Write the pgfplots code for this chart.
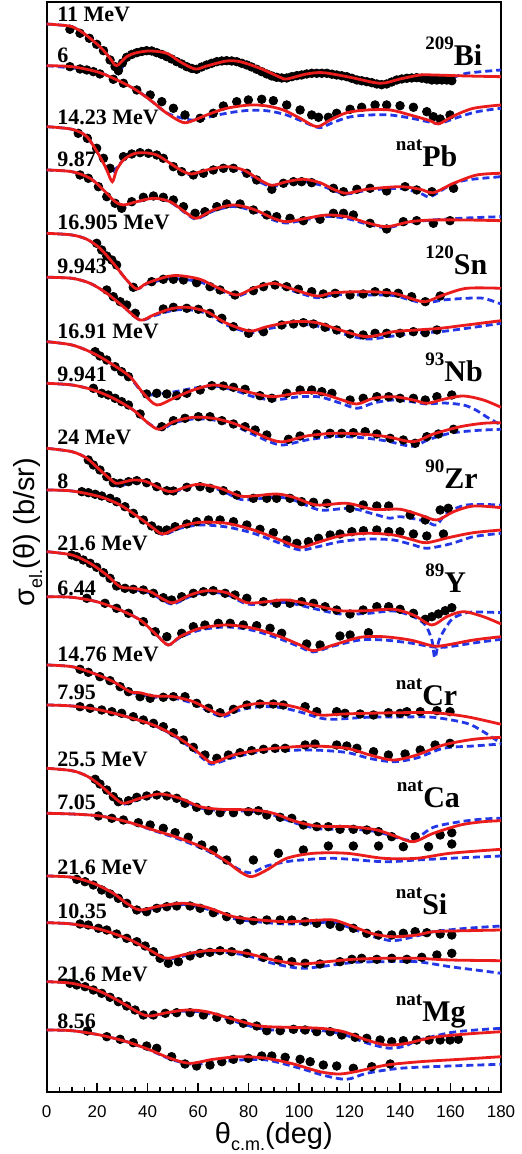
\documentclass[border=0pt]{standalone}
\usepackage{fontspec}
\setmainfont{Liberation Serif}
\newfontfamily\sans{Liberation Sans}
\usepackage{pgfplots}
\pgfplotsset{compat=1.18}
\definecolor{cred}{RGB}{235,28,28}
\definecolor{cblue}{RGB}{35,55,230}
\pgfplotsset{
 rl/.style={cred, line width=1.4pt, smooth, tension=0.5, no marks, on layer=axis foreground},
 bl/.style={cblue, line width=1.4pt, dash pattern=on 3.5pt off 2pt, smooth, tension=0.5, no marks},
 dt/.style={only marks, mark=*, mark size=2.15pt, black, mark options={draw=black, fill=black}},
}
\newcommand{\en}[1]{\fontsize{11}{12}\selectfont\bfseries #1}
\newcommand{\nuc}[2]{\bfseries\raisebox{8.3pt}{\fontsize{9.5}{10}\selectfont #1}\fontsize{15}{17}\selectfont #2}
\begin{document}
\begin{tikzpicture}
\begin{axis}[
 set layers,
 scale only axis, width=227.15pt, height=545.3pt,
 xmin=0, xmax=180, ymin=-1092.3, ymax=-1.7,
 xtick={0,20,...,180}, minor x tick num=3, ytick=\empty,
 tick align=inside, xtick pos=left,
 major tick length=4.5pt, minor tick length=2.5pt,
 every tick/.style={black, line width=0.8pt},
 axis line style={line width=1pt},
 /pgf/number format/assume math mode=true,
 xticklabel style={font=\sans\fontsize{8.5}{10}\selectfont, yshift=-3pt},
 clip=false,
]
% ---------- 209Bi 11 MeV
\addplot[bl] coordinates {(0,-24)(5,-25)(10,-26.7)(14.5,-33)(21.1,-46.7)(25.1,-58.3)(28.4,-74)(31.7,-57.5)(35.7,-53)(41,-51.5)(47.6,-54)(52.8,-62.5)(58.8,-69.5)(63.4,-66.7)(71.3,-62)(76.6,-62.5)(84.5,-69.5)(92.5,-78)(95.1,-79.7)(103,-75)(109.6,-73.5)(120.2,-78.3)(132.1,-84.3)(140,-80.3)(148,-77)(153.2,-78.5)(159.8,-78.3)(166.4,-73.3)(180,-70)};
\addplot[dt] coordinates {(9.2,-29.3)(13.2,-33.3)(16.9,-38.3)(19.8,-44.3)(22.5,-50.7)(25.1,-60)(27.1,-66.7)(28.4,-70.7)(30,-63)(31.7,-57.3)(33.7,-54.5)(35.7,-52.7)(37.7,-51.5)(39.6,-50.7)(41.6,-51)(43.6,-52.7)(45.6,-54.5)(47.6,-56.7)(49.5,-59)(51.5,-61.7)(53.5,-64)(55.5,-66.7)(57.5,-68.5)(59.4,-69.3)(61.4,-67)(63.4,-65)(65.4,-63.3)(67.4,-61.7)(69.4,-61)(71.3,-60.7)(73.3,-61)(75.3,-61.7)(77.3,-63.3)(79.3,-65)(81.2,-67)(83.2,-69.3)(85.2,-71.7)(87.2,-74)(89.2,-76)(91.1,-77.3)(93.1,-78)(95.1,-78)(97.1,-76.7)(99.1,-75.7)(101,-75)(103,-74)(105,-73.3)(107,-73.3)(109,-73.3)(111,-73.3)(113,-74.2)(114.9,-75)(116.9,-75.8)(118.9,-76.7)(120.9,-78.3)(122.9,-80)(124.8,-80.8)(126.8,-81.7)(128.8,-82.7)(130.8,-84)(132.7,-84.7)(134.7,-84)(136.7,-82)(138.7,-80)(140.7,-79)(142.7,-78.3)(144.6,-78)(146.6,-77.7)(148.6,-78.2)(150.6,-79)(152.6,-80)(154.6,-80)(156.6,-80)(158.5,-80)(160.5,-80.7)};
\addplot[rl] coordinates {(0,-24)(5,-25)(10,-26.7)(14.5,-33)(21.1,-46.7)(25.1,-58.3)(27.7,-65.7)(31.7,-56.7)(35.7,-52.7)(41,-51)(47.6,-53.3)(52.8,-61.7)(58.8,-69)(63.4,-66)(71.3,-61)(76.6,-61.7)(84.5,-68.3)(92.5,-77.3)(95.1,-79)(103,-74)(109.6,-72.7)(120.2,-77.3)(132.1,-83.3)(140,-79)(148,-75)(153.2,-75)(166.4,-76)(180,-76.7)};
% ---------- 209Bi 6 MeV
\addplot[bl] coordinates {(0,-65.7)(19.8,-71.7)(34.3,-88.3)(41,-100)(47.6,-113)(55.5,-119.3)(60,-120)(66,-116)(73,-112.5)(80.6,-110.3)(88,-111)(95,-115)(101,-121)(108,-127.7)(113,-123)(120,-117)(128,-115)(136,-115)(144,-118)(151,-121.7)(155.5,-123.5)(161,-119)(170,-112)(180,-108.3)};
\addplot[dt] coordinates {(9.2,-66.7)(13.2,-69)(15.9,-70)(18.5,-71.7)(21.1,-74)(26.4,-79.3)(30.4,-83.3)(35.7,-90)(41,-95)(45.6,-101.7)(50.2,-108.3)(54.8,-115)(60.8,-118.3)(66,-113.3)(70,-106)(75.3,-101.7)(79.9,-100)(85.2,-99.3)(89.8,-100.7)(95.1,-105)(100.4,-110)(105,-115)(107.7,-117.3)(111.6,-117.3)(114.9,-113.3)(120.2,-109.3)(124.8,-107.3)(130.1,-105)(134.7,-105)(140,-105.7)(145.3,-107.3)(150.6,-111.7)(153.2,-116.7)(155.9,-119)(159.8,-115)};
\addplot[rl] coordinates {(0,-65.7)(10,-66.7)(19.8,-71.7)(26.4,-78.3)(34.3,-88.3)(41,-100)(47.6,-113.3)(54,-122.5)(58.1,-120.5)(63.4,-115)(71.3,-108.3)(80.6,-105)(87.2,-106)(93.8,-110)(100.4,-118.3)(107,-126.7)(112.3,-120)(118.9,-112.7)(126.8,-110)(136.1,-110)(144,-115)(151.9,-120.7)(155.2,-124)(161.2,-116)(169.1,-108.3)(180,-105)};
% ---------- natPb 14.23
\addplot[bl] coordinates {(0,-126.7)(10,-129.3)(15.9,-136.7)(21.1,-156.7)(23.8,-168)(26,-173)(27.7,-168)(30.4,-160)(34.3,-154)(38.3,-152.7)(43.6,-155)(48.9,-163.3)(53.5,-171)(57.5,-175)(63.4,-171.5)(71.3,-168.5)(77.9,-172)(84.5,-182)(89.2,-186.5)(95.1,-183.5)(101.7,-181.5)(108.3,-185)(113.6,-190.5)(118.9,-194)(126.8,-190.5)(140,-188.5)(148,-193.3)(152,-196.7)(160,-185)(166.4,-180)(180,-176.7)};
\addplot[dt] coordinates {(12.5,-133.3)(16.1,-138.3)(19.8,-148.3)(22.5,-158.3)(25.1,-168.3)(30.4,-156.7)(33.7,-154)(37,-152.7)(40.3,-153.3)(43.6,-155)(46.2,-158.3)(50.2,-166.7)(53.5,-171.7)(58.1,-175)(62.1,-173.3)(66,-170)(70,-168.3)(74,-168.3)(79.3,-173.3)(83.2,-180)(89.2,-189.3)(93.8,-183.3)(97.8,-181.7)(101,-181.7)(105,-182.7)(113.6,-188.3)(117.6,-191.7)(122.9,-189.3)(128.1,-188.3)(134.7,-191)(142,-186.7)(146.6,-190)(152.6,-191.7)(161.2,-188.3)};
\addplot[rl] coordinates {(0,-126.7)(10,-129.3)(15.9,-136.7)(21.1,-156.7)(23.8,-170)(26,-181.7)(27.7,-170)(30.4,-160)(34.3,-154)(38.3,-152.7)(43.6,-155)(48.9,-163.3)(53.5,-170.7)(57.5,-174)(63.4,-170)(71.3,-166.7)(77.9,-170)(84.5,-180)(89.2,-185.3)(95.1,-181.7)(101.7,-179.3)(108.3,-182.7)(113.6,-189.3)(118.9,-193.3)(126.8,-189.3)(140,-186.7)(148,-189.3)(153.2,-192.7)(161.2,-183.3)(170.4,-175)(180,-173.3)};
% ---------- natPb 9.87
\addplot[bl] coordinates {(0,-170)(10,-171.7)(17.2,-178.3)(22.5,-190)(27.1,-203.5)(29.7,-210)(32,-205)(35.7,-202)(42.3,-198.3)(48.9,-202)(55.5,-214)(59.4,-219)(66,-211)(74,-206.5)(81.9,-211)(89.8,-220)(95.1,-223)(103,-219.5)(111,-216.5)(118.9,-218.5)(126.8,-224)(134.7,-227.7)(144,-222.5)(153.2,-220)(166.4,-218)(180,-216.7)};
\addplot[dt] coordinates {(13.2,-175)(16.5,-178.3)(20.5,-186.7)(23.8,-196.7)(27.1,-203.3)(29.7,-208.3)(33.7,-201.7)(38.3,-197.3)(42.3,-196)(46.2,-197.3)(50.2,-200)(54.2,-206.7)(58.8,-213.3)(62.7,-211.7)(67.4,-206.7)(71.3,-204)(76.6,-204)(81.9,-210)(87.2,-215)(91.1,-216.7)(96.4,-218.3)(101.7,-220.7)(108.3,-219.3)(113.6,-213.3)(117.6,-213.3)(121.5,-215)(128.1,-223.3)(134.7,-229)(141.3,-221.7)(146.6,-220.7)(153.2,-223.3)(159.8,-220.7)};
\addplot[rl] coordinates {(0,-170)(10,-171.7)(17.2,-178.3)(22.5,-190)(27.1,-201.7)(30.4,-205)(35.7,-201.7)(42.3,-198.3)(48.9,-201.7)(55.5,-213.3)(59.4,-218.3)(66,-210)(74,-205)(81.9,-209.3)(89.8,-218.3)(95.1,-221.7)(103,-218.3)(111,-215)(118.9,-216.7)(126.8,-222.7)(134.7,-226.7)(144,-221.7)(153.2,-220)(166.4,-220)(180,-220.7)};
% ---------- 120Sn 16.905
\addplot[bl] coordinates {(0,-233.3)(10,-235)(15.9,-239.3)(21.1,-248.3)(26.4,-263.3)(31.7,-280)(35.7,-289)(39.6,-284)(47.6,-279)(52.8,-279)(60.8,-282)(67.4,-289)(75.3,-296)(81.9,-290)(89.8,-285)(96.4,-290)(107,-297.7)(113.6,-295)(126.8,-295)(137.4,-295.5)(144,-300)(150,-303)(157.2,-300)(166.4,-298.3)(173,-298.3)(180,-304)};
\addplot[dt] coordinates {(19.8,-243.3)(21.8,-250)(23.8,-256)(25.8,-260)(27.7,-265)(34.3,-287.3)(41.6,-281.7)(46.2,-279.3)(50.2,-279.3)(54.2,-280)(59.4,-282.7)(64.7,-286.7)(68.7,-290)(74.6,-295)(81.9,-290.7)(85.9,-286.7)(90.5,-285)(95.1,-286.7)(99.7,-289.3)(105,-291.7)(109.6,-294)(114.3,-293.3)(120.2,-295)(125.4,-294)(130.1,-291.7)(134.7,-292.7)(139.3,-293.3)(144.6,-296.7)(150,-301.7)(155.9,-296)};
\addplot[rl] coordinates {(0,-233.3)(10,-235)(15.9,-239.3)(21.1,-248.3)(26.4,-263.3)(31.7,-280)(35.7,-289)(39.6,-283.3)(47.6,-276.7)(52.8,-275.7)(60.8,-279.3)(67.4,-287.3)(75.3,-295)(81.9,-288.3)(89.8,-283.3)(96.4,-288.3)(107,-296)(113.6,-292.7)(126.8,-291.7)(137.4,-293.3)(144,-298.3)(150,-301.7)(157.2,-295)(166.4,-288.3)(180,-288.3)};
% ---------- 120Sn 9.943
\addplot[bl] coordinates {(0,-277.3)(10,-278.3)(17.2,-283.3)(23.8,-293.3)(30.4,-306.7)(37,-320)(42.3,-316)(48.9,-311)(55.5,-309.5)(63.4,-313.5)(71.3,-325)(80.6,-332.5)(87.2,-329)(97.8,-324.5)(107,-326)(116.2,-333)(126.8,-339)(137.4,-336)(146.6,-333)(155.9,-331.7)(166.4,-328.3)(180,-323.3)};
\addplot[dt] coordinates {(23.8,-290)(26.4,-296.7)(29.1,-301.7)(31.7,-305)(35.1,-313.3)(46.2,-309)(50.2,-307.3)(55.5,-308.3)(60.1,-309.3)(64.7,-313.3)(69.4,-318.3)(74,-326.7)(80,-333.3)(85.9,-331.7)(93.1,-325)(97.8,-324)(101.7,-322.7)(105.7,-324)(110.3,-327.3)(114.9,-330)(120.2,-334)(125.4,-335)(130.1,-333.3)(134.7,-333.3)(140,-333.3)(145.3,-331.7)(150,-332.7)(154.6,-330)};
\addplot[rl] coordinates {(0,-277.3)(10,-278.3)(17.2,-283.3)(23.8,-293.3)(30.4,-306.7)(37,-320)(42.3,-315)(48.9,-309)(55.5,-307.3)(63.4,-311.7)(71.3,-323.3)(80.6,-331)(87.2,-326.7)(97.8,-321.7)(107,-322.7)(116.2,-330)(126.8,-336.7)(137.4,-331.7)(146.6,-330)(155.9,-328.3)(166.4,-325)(180,-320.7)};
% ---------- 93Nb 16.91
\addplot[bl] coordinates {(0,-341.7)(10,-345)(18.5,-353.3)(26.4,-365)(33,-377.7)(37,-390)(39.6,-395)(44,-394)(50.2,-392)(58.1,-388.3)(66,-386)(74,-390)(81.9,-396.7)(89.8,-400)(100.4,-396.7)(108.3,-397)(116.2,-403)(123,-408.3)(129.5,-403)(137.4,-400)(145.3,-402)(150.6,-404)(157.2,-403)(165.1,-405)(170,-410)(175,-418)(180,-425)};
\addplot[dt] coordinates {(19.2,-351.7)(21.1,-356)(23.8,-360)(27.1,-366.7)(29.7,-371.7)(32.4,-376.7)(39.6,-394)(43.6,-393.3)(47.6,-394)(51.5,-395.7)(55.5,-393.3)(60.8,-390)(65.4,-385.7)(70,-386)(74,-387.3)(78.6,-389.3)(84.5,-395.7)(89.2,-398.3)(95.1,-393.3)(100.4,-390)(105,-390)(109,-391.7)(113,-393.3)(120.2,-400)(125.4,-398.3)(130.8,-396.7)(135.5,-396.7)(140,-398.3)(145.3,-398.3)(150,-400)(154.6,-396.7)(160.5,-395)};
\addplot[rl] coordinates {(0,-341.7)(10,-345)(18.5,-353.3)(26.4,-365)(33,-376.7)(38.3,-393.3)(43.6,-405)(50.2,-398.3)(58.1,-390)(66,-385)(74,-388.3)(81.9,-393.3)(89.8,-396.7)(100.4,-392.7)(108.3,-393.3)(116.2,-399.3)(122.9,-404)(129.5,-398.3)(137.4,-396.7)(145.3,-400)(150.6,-403.3)(157.2,-399.3)(165.1,-396)(173,-400)(180,-407.3)};
% ---------- 93Nb 9.941
\addplot[bl] coordinates {(0,-383.3)(10,-385)(18.5,-390)(26.4,-398.3)(34.3,-410)(40.3,-423.3)(45.6,-429.3)(50.2,-423)(58.1,-419)(66,-420)(74,-425.5)(81.9,-434.5)(88.5,-442)(93.8,-445)(103,-440)(113.6,-436.7)(124.2,-437.5)(134.7,-441)(141.3,-445)(146,-446)(151,-440)(159.8,-433.3)(170,-430.5)(180,-429.3)};
\addplot[dt] coordinates {(18.5,-388.3)(21.8,-393.3)(24.4,-395)(27.1,-398.3)(29.7,-401.7)(32.4,-405)(37,-414)(45.6,-426.7)(50.2,-420.7)(54.8,-418.3)(60.1,-416.7)(64.7,-416.7)(69.4,-420.7)(74,-424)(78.6,-426.7)(82.6,-430)(87.2,-435)(95.8,-439.3)(100.4,-436)(107,-434)(112.3,-433.3)(116.9,-433.3)(121.5,-432.7)(126.2,-431.7)(130.8,-434)(136.1,-438.3)(141.3,-440)(146,-443.3)(150.6,-436.7)(155.2,-434)(161.2,-429.3)};
\addplot[rl] coordinates {(0,-383.3)(10,-385)(18.5,-390)(26.4,-398.3)(34.3,-410)(40.3,-423.3)(44.6,-429.3)(50.2,-421.7)(58.1,-417.3)(66,-418.3)(74,-423.3)(81.9,-431.7)(88.5,-439.3)(93.8,-441.7)(103,-436)(113.6,-433.3)(124.2,-434)(134.7,-436.7)(145.3,-441.7)(153.2,-434)(163.9,-426.7)(173,-423.3)(180,-422.7)};
% ---------- 90Zr 24
\addplot[bl] coordinates {(0,-448.3)(10,-451.7)(15.9,-458.3)(21.1,-470)(26.4,-482.5)(28.4,-486.7)(34.3,-481.7)(39.6,-482.7)(44.9,-489)(49.5,-492.3)(55.5,-487.7)(60.8,-485.5)(68.7,-490)(76.6,-499.3)(81.9,-499.3)(91.1,-497)(97.8,-500)(108.3,-510)(120.2,-508.3)(129.5,-514)(136,-518.3)(140,-516.7)(148,-520)(151.9,-523.3)(154.6,-525)(158.5,-513.3)(166.4,-505)(180,-505)};
\addplot[dt] coordinates {(16.5,-460)(18.5,-465)(21.1,-470)(23.8,-476.7)(26.4,-482.7)(29.1,-483.3)(32.4,-481.7)(35.7,-480.7)(39.6,-482.7)(43.6,-486.7)(47.6,-490.7)(50.2,-491)(55.5,-487.3)(60.8,-486.7)(64.7,-488.3)(70,-490.7)(75.3,-495)(81.9,-498.3)(87.2,-498.3)(91.1,-498.3)(96.4,-498.3)(101,-501.7)(105.7,-502.3)(111,-503.3)(120.2,-508.3)(125.4,-505)(130.8,-506)(135.5,-506)(144,-515)(150,-520)(155.9,-510)(159.1,-508.3)};
\addplot[rl] coordinates {(0,-448.3)(10,-451.7)(15.9,-458.3)(21.1,-470)(26.4,-481.7)(28.4,-483.3)(34.3,-480)(39.6,-481.7)(44.9,-488.3)(49.5,-491.7)(55.5,-486.7)(60.8,-484.3)(68.7,-488.3)(76.6,-496)(81.9,-496)(91.1,-494)(97.8,-497.3)(107,-505)(118.9,-503.3)(129.5,-509.3)(140,-509.3)(148,-515)(154.6,-520)(161.2,-511.7)(169.1,-506)(180,-507.7)};
% ---------- 90Zr 8
\addplot[bl] coordinates {(0,-490)(10,-491)(21.1,-496.7)(29.1,-505)(37,-518.3)(42.3,-528.3)(46.2,-534.7)(52.8,-528.3)(60.8,-525)(71.3,-527)(81.9,-533.3)(92.5,-543.3)(100.4,-550)(107,-547)(116.2,-541.7)(126.8,-539)(137.4,-540)(145.3,-545)(150.6,-548.3)(159.8,-544)(169.1,-536.7)(180,-533.3)};
\addplot[dt] coordinates {(13.9,-491.7)(16.5,-492.7)(19.2,-494.3)(21.8,-496)(25.1,-498.3)(27.7,-501.7)(31,-506.7)(34.3,-513.3)(38.3,-520)(41.6,-526)(44.3,-530)(47.6,-530)(50.9,-526.7)(55.5,-524)(59.4,-521.7)(64.1,-520)(68.7,-520)(74,-521.7)(79.3,-525)(84.5,-529.3)(89.8,-532.7)(95.1,-540)(99.1,-543.3)(103.7,-541.7)(107.7,-538.3)(112.3,-535)(116.2,-534)(120.9,-531.7)(125.5,-530.7)(130.8,-530)(135.5,-531.7)(140,-531.7)(145.3,-534)(150.6,-536)(157.2,-534)};
\addplot[rl] coordinates {(0,-490)(10,-491)(21.1,-496.7)(29.1,-505)(37,-518.3)(42.3,-528.3)(46.2,-534)(52.8,-526.7)(60.8,-522.3)(71.3,-523.3)(81.9,-530)(92.5,-540)(100.4,-547.3)(107,-542.7)(116.2,-536)(126.8,-533.3)(137.4,-535)(145.3,-540)(150.6,-542.7)(159.8,-537.3)(169.1,-532.7)(180,-530)};
% ---------- 89Y 21.6
\addplot[bl] coordinates {(0,-551.7)(10,-555)(17.2,-563.3)(23.8,-575)(29.1,-587.5)(34.3,-589.5)(41,-593)(46.2,-600.5)(50.2,-604)(56.8,-596.5)(63.4,-592)(71.3,-594.5)(79.3,-604)(87.2,-603.5)(95.1,-602.5)(105.7,-608.5)(116.2,-614)(126.8,-613.5)(137.4,-611)(145.3,-616.7)(150,-625)(152.6,-640)(153.8,-658)(155.5,-640)(158.5,-626)(161.2,-618)(166.4,-612.7)(172,-612)(180,-612.7)};
\addplot[dt] coordinates {(9.9,-555)(11.9,-556.7)(14.5,-560)(17.2,-563.3)(19.8,-567.3)(22.5,-572.7)(25.1,-578.3)(27.7,-586)(31,-588.3)(34.3,-589.3)(38.3,-590)(42.3,-593.3)(46.2,-597.7)(49.5,-600)(53.5,-596.7)(58.1,-593.3)(62.1,-591.7)(66,-590.7)(70.7,-593.3)(74.6,-595)(79.3,-598.3)(85.9,-601.7)(91.1,-603.3)(96.4,-603.3)(101,-601.7)(105.7,-603.3)(110.3,-606.7)(114.9,-610)(120.2,-614)(125.4,-610)(130.8,-606.7)(135.5,-606.7)(140,-609.3)(145.3,-613.3)(150,-619.3)(152.6,-616.7)(155.2,-614)(157.9,-610.7)(160.5,-607.7)};
\addplot[rl] coordinates {(0,-551.7)(10,-555)(17.2,-563.3)(23.8,-575)(29.1,-586.7)(34.3,-588.3)(41,-591.7)(46.2,-599.3)(50.2,-602.7)(56.8,-595)(63.4,-590.7)(71.3,-592.7)(79.3,-602.7)(87.2,-601.7)(95.1,-600)(105.7,-605)(116.2,-610.7)(126.8,-610.7)(137.4,-609.3)(145.3,-615)(152.6,-625)(158.5,-616.7)(165.1,-611.7)(173,-616.7)(180,-624)};
% ---------- 89Y 6.44
\addplot[bl] coordinates {(0,-596.7)(10,-597.3)(19.8,-601.7)(29.1,-610)(37,-620)(43.6,-635)(48.2,-645)(52.8,-637.5)(60.8,-630)(71.3,-627)(81.9,-630.5)(92.5,-639)(100.4,-647)(105.7,-652)(113.6,-646)(124.2,-640)(133.4,-640)(144,-643)(153.2,-647)(158.5,-647)(169.1,-643)(180,-639.3)};
\addplot[dt] coordinates {(15.9,-598.3)(23.1,-603.3)(27.7,-608.3)(32.4,-613.3)(38.3,-621.7)(43,-631.7)(47.6,-636.7)(53.5,-633.3)(58.1,-626.7)(62.7,-625)(68,-623.3)(72.7,-623.3)(77.9,-625)(83.2,-625.7)(88.5,-628.3)(93.1,-633.3)(103,-644)(108.3,-645)(116.2,-636)(120.2,-635)(127.5,-632.7)};
\addplot[rl] coordinates {(0,-596.7)(10,-597.3)(19.8,-601.7)(29.1,-610)(37,-620)(43.6,-635)(48.2,-645)(52.8,-636.7)(60.8,-628.3)(71.3,-625)(81.9,-628.3)(92.5,-636.7)(100.4,-645)(105.7,-650.7)(113.6,-645)(124.2,-637.3)(133.4,-636.7)(144,-640)(153.2,-646)(158.5,-645)(169.1,-640)(180,-636.7)};
% ---------- natCr 14.76
\addplot[bl] coordinates {(0,-665)(10,-666.7)(18.5,-673.3)(26.4,-681.7)(33,-692)(37,-694)(42.3,-697)(50.2,-698)(58.1,-703.5)(64.7,-712)(70,-716.7)(76.6,-710)(84.5,-706.7)(92.5,-707.5)(100.4,-712)(108.3,-718)(113.6,-719.3)(126.8,-717.3)(140,-717)(153.2,-717.3)(166.4,-723.3)(173,-731.7)(180,-743.3)};
\addplot[dt] coordinates {(13.2,-669.3)(16.5,-672.3)(21.1,-676.7)(25.1,-680.7)(29.1,-686.7)(32.4,-691.7)(37,-696.7)(41,-698.3)(46.2,-697.3)(50.2,-696.7)(54.8,-696.7)(59.4,-703.3)(64.1,-708.3)(68.7,-712.7)(74,-709.3)(79.3,-705)(84.5,-704)(89.8,-704)(93.8,-705)(102.4,-706.7)(107,-711.7)(114.9,-711.7)(118.2,-713.3)(124.2,-714)(129.5,-715)(135.4,-712.7)(140,-713.3)(142.7,-711.7)(148,-711.7)(154.6,-710.7)(159.8,-711.7)};
\addplot[rl] coordinates {(0,-665)(10,-666.7)(18.5,-673.3)(26.4,-681.7)(33,-691.7)(37,-692.7)(42.3,-696)(50.2,-696.7)(58.1,-701.7)(64.7,-710)(70,-715)(76.6,-706.7)(84.5,-703.3)(92.5,-704)(100.4,-708.3)(108.3,-715)(117.6,-714)(126.8,-713.3)(140,-712.7)(153.2,-712.7)(166.4,-716.7)(180,-724.3)};
% ---------- natCr 7.95
\addplot[bl] coordinates {(0,-705)(10,-706)(21.1,-710)(31.7,-716.7)(42.3,-725)(51.5,-737.5)(58.1,-750)(63.4,-761.7)(66,-764)(74,-757.5)(84.5,-751.7)(95.1,-750.5)(105.7,-750)(118.9,-752.5)(128.1,-758.5)(137.4,-761.7)(146.6,-758)(157.2,-748.3)(169.1,-746)(180,-744)};
\addplot[dt] coordinates {(13.2,-706.7)(17.2,-708.3)(21.8,-710)(25.8,-711.7)(29.7,-713.3)(34.3,-716.7)(38.3,-720)(42.3,-723.3)(46.2,-726.7)(50.2,-732.7)(54.2,-740)(58.1,-747.3)(62.7,-755)(67.4,-758.3)(72,-755)(76.6,-752.7)(81.2,-750.7)(85.9,-749.3)(90.5,-748.3)(94.5,-748.3)(102.4,-745)(106.3,-744)(114.9,-745)(118.9,-746)(122.9,-748.3)(129.5,-751.7)(135.4,-755)(142,-754)(148,-750)(153.9,-745)(159.8,-743.3)};
\addplot[rl] coordinates {(0,-705)(10,-706)(21.1,-710)(31.7,-716.7)(42.3,-725)(51.5,-736.7)(58.1,-748.3)(62.7,-758.3)(66,-762.7)(74,-755)(84.5,-750)(95.1,-747.3)(105.7,-746)(118.9,-748.3)(128.1,-755)(137.4,-760)(146.6,-755)(157.2,-745)(169.1,-739.3)(180,-737.3)};
% ---------- natCa 25.5
\addplot[bl] coordinates {(0,-768.3)(10,-770.7)(15.9,-776)(21.1,-785)(26.4,-797)(30.4,-804.3)(37,-799.3)(44.9,-795)(52.8,-799.5)(60.8,-808)(68.7,-810.5)(81.9,-811.5)(89.8,-815)(97.8,-822.5)(107,-828.5)(113.6,-829.3)(120.2,-829)(130.8,-831.7)(138.7,-837.5)(145.3,-840)(153.2,-827.3)(163.9,-821.7)(173,-819)(180,-818.3)};
\addplot[dt] coordinates {(19.2,-779.3)(21.1,-784)(23.8,-790)(26.4,-796.7)(28.4,-801.7)(32.4,-800.7)(35.7,-797.3)(39.6,-796)(43.6,-795)(47.6,-796)(51.5,-798.3)(54.8,-803.3)(59.4,-807.3)(64.1,-810.7)(68.7,-812.7)(74,-812.7)(79.9,-811.7)(83.9,-810.7)(87.2,-815)(92.5,-817.3)(97.1,-818.3)(101.7,-825)(107,-826.7)(111.6,-826.7)(116.2,-829.3)(121.5,-829.3)(126.8,-830)(131.5,-831.7)(136.7,-836.7)(146,-836.7)(155.9,-835)(160.5,-832.7)};
\addplot[rl] coordinates {(0,-768.3)(10,-770.7)(15.9,-776)(21.1,-785)(26.4,-796.7)(30.4,-803.3)(37,-798.3)(44.9,-794)(52.8,-798.3)(60.8,-806.7)(68.7,-809.3)(81.9,-810)(89.8,-813.3)(97.8,-820.7)(107,-826)(120.2,-826.7)(130.8,-830)(138.7,-836.7)(145.3,-841.7)(153.2,-833.3)(163.9,-825)(173,-821.7)(180,-820.7)};
% ---------- natCa 7.05
\addplot[bl] coordinates {(0,-813.3)(10,-814)(21.1,-816)(31.7,-821.7)(42.3,-830.5)(52.8,-839.5)(63.4,-850.5)(71.3,-862)(76.6,-870)(81.2,-872.7)(87.2,-866)(95.1,-861.7)(100.9,-860)(113.6,-858.3)(133.4,-861.7)(146.6,-860)(159.8,-858.3)(180,-856)};
\addplot[dt] coordinates {(20.5,-816)(25.8,-818.3)(30.4,-820)(36.3,-822.7)(41,-825)(46.2,-828.3)(50.9,-832.7)(56.1,-837.3)(61.4,-845)(66,-850)(71.3,-860)(81.9,-860)(91.8,-853.3)(101.7,-850)(111.6,-846)(121.5,-846)(131.5,-846)(141.3,-846.7)(151.3,-846.7)(160.5,-844)};
\addplot[rl] coordinates {(0,-813.3)(10,-814)(21.1,-816)(31.7,-821.7)(42.3,-830)(52.8,-838.3)(63.4,-849.3)(71.3,-861.7)(76.6,-871.7)(81.2,-876.7)(87.2,-870)(95.1,-858.3)(105.7,-853.3)(118.9,-853.3)(133.4,-858.3)(146.6,-858.3)(159.8,-853.3)(180,-849.3)};
% ---------- natSi 21.6
\addplot[bl] coordinates {(0,-876)(10,-877.3)(18.5,-883.3)(26.4,-893.3)(31.7,-903.3)(37,-911)(44.9,-907)(54.2,-904.5)(63.4,-909)(74,-918.5)(84.5,-922)(95.1,-924)(105.7,-923)(113.6,-922.5)(121.5,-929)(129.5,-936.7)(137.4,-940.7)(146.6,-936)(153.2,-931.7)(166.4,-928.3)(180,-926)};
\addplot[dt] coordinates {(11.9,-879.3)(15.2,-881.7)(18.5,-885)(21.8,-890)(25.1,-894)(28.4,-898.3)(31.7,-903.3)(35.7,-910)(39.6,-911.7)(43.6,-908.3)(47.6,-906.7)(51.5,-906)(56.8,-906)(60.8,-908.3)(66,-912.7)(71.3,-916.7)(76.6,-920)(81.9,-920.7)(87.2,-920)(92.5,-920)(97.1,-920)(102.4,-921.7)(107,-923.3)(112.3,-924.3)(116.2,-926.7)(121.5,-928.3)(126.8,-933.3)(131.4,-935)(136.7,-935)(141.3,-933.3)(146,-931.7)(150.6,-932.7)(155.9,-934)(160.5,-935)};
\addplot[rl] coordinates {(0,-876)(10,-877.3)(18.5,-883.3)(26.4,-893.3)(31.7,-903.3)(37,-910)(44.9,-906)(54.2,-903.3)(63.4,-907.3)(74,-916.7)(84.5,-920)(95.1,-921.7)(105.7,-920.5)(113.6,-920)(121.5,-926.7)(129.5,-934)(137.4,-936.7)(146.6,-935)(153.2,-931.7)(166.4,-930.7)(180,-930)};
% ---------- natSi 10.35
\addplot[bl] coordinates {(0,-922.7)(10,-924)(21.1,-929.3)(31.7,-938.3)(39.6,-948.7)(44.9,-957)(48.2,-959.3)(55.5,-955.5)(63.4,-952.5)(71.3,-952.5)(79.3,-955.5)(89.8,-963.5)(100.4,-968.3)(108.3,-966.7)(121.5,-962.5)(133.4,-961.7)(146.6,-961.7)(159.8,-966.7)(170,-970)(180,-973.3)};
\addplot[dt] coordinates {(13.2,-924)(16.5,-925)(20.5,-928.3)(23.8,-930)(27.7,-934)(31.7,-938.3)(35.7,-941.7)(39,-946)(42.3,-951.7)(44.9,-958.3)(48.2,-963.3)(52.2,-961.7)(56.8,-956)(60.8,-953.3)(64.7,-952.3)(68.7,-950.7)(73.3,-951.7)(79.3,-953.3)(85.9,-957.3)(91.8,-960)(97.1,-961.7)(102.4,-963.3)(108.3,-964)(116.2,-961.7)(120.9,-959.3)(124.8,-958.3)(130.8,-959.3)(136.7,-958.3)(142.7,-959.3)(148.6,-957.3)(154.6,-955)(160.5,-953.3)};
\addplot[rl] coordinates {(0,-922.7)(10,-924)(21.1,-929.3)(31.7,-938.3)(39.6,-948.3)(44.9,-956)(48.2,-958.3)(55.5,-954)(63.4,-950.7)(71.3,-950.7)(79.3,-953.3)(89.8,-960)(100.4,-964)(111,-961.7)(121.5,-959.3)(133.4,-958.3)(146.6,-958.3)(159.8,-960)(180,-960.7)};
% ---------- natMg 21.6
\addplot[bl] coordinates {(0,-981.7)(10,-983.3)(19.8,-990)(29.1,-1001.7)(37,-1013.7)(41,-1016.7)(47.6,-1013.5)(55.5,-1011)(63.4,-1013)(74,-1021)(84.5,-1028.5)(95.1,-1030.7)(108.3,-1030.5)(117.6,-1034.5)(126.8,-1043)(136,-1048.3)(142.7,-1045.5)(146.6,-1040.7)(159.8,-1032.7)(170,-1030)(180,-1028.3)};
\addplot[dt] coordinates {(9.2,-983.3)(11.9,-985)(15.2,-986.7)(18.5,-990)(21.8,-993.3)(25.1,-997.3)(28.4,-1001.7)(31.7,-1006)(35,-1010)(38.3,-1015)(42.3,-1015)(47,-1013.3)(51.5,-1012.7)(56.8,-1012.7)(62.1,-1015)(67.4,-1017.3)(72.7,-1020)(77.9,-1023.3)(83.2,-1026)(87.2,-1030.7)(92.5,-1030.7)(97.8,-1029.3)(102.4,-1030)(107,-1031.7)(112.3,-1031.7)(116.9,-1035)(122.2,-1037.3)(126.8,-1038.3)(132.1,-1040)(136.7,-1041.7)(141.3,-1040.7)(146.6,-1040)(151.5,-1040)(155.9,-1040)(159.8,-1040)(163.1,-1039.3)};
\addplot[rl] coordinates {(0,-981.7)(10,-983.3)(19.8,-990)(29.1,-1001.7)(37,-1013.3)(41,-1016)(47.6,-1012.7)(55.5,-1010)(63.4,-1011.7)(74,-1019.3)(84.5,-1026)(95.1,-1027.3)(108.3,-1028.3)(117.6,-1031.7)(126.8,-1040)(134.7,-1045)(142.7,-1043.3)(153.2,-1037.3)(166.4,-1034)(180,-1031.7)};
% ---------- natMg 8.56
\addplot[bl] coordinates {(0,-1030)(10,-1030.7)(21.1,-1035)(31.7,-1041.7)(41,-1050.3)(48.9,-1059)(56.8,-1064)(66,-1062.7)(76.6,-1060)(87.2,-1060)(100.4,-1068.3)(110,-1075.5)(118.9,-1079.3)(126.8,-1073.3)(140,-1068.3)(159.8,-1066)(180,-1064.3)};
\addplot[dt] coordinates {(16.1,-1031)(23.8,-1036.7)(29.1,-1039.3)(34.3,-1042.7)(39.6,-1046)(43.6,-1048.3)(49.5,-1056.7)(54.8,-1064)(59.4,-1066)(64.7,-1065)(69.4,-1061.7)(74,-1059.3)(79.9,-1058.3)(85.2,-1056)(89.2,-1056)(94.5,-1057.3)(100.4,-1059.3)(104.4,-1061.7)(109.6,-1065)(114.9,-1066)(121.5,-1068.3)(128.8,-1066.7)(136.1,-1064)};
\addplot[rl] coordinates {(0,-1030)(10,-1030.7)(21.1,-1035)(31.7,-1041.7)(41,-1050)(48.9,-1058.3)(56.8,-1063.3)(66,-1059.3)(76.6,-1056.7)(87.2,-1058.3)(97.8,-1064)(108.3,-1071.7)(116.2,-1074)(124.2,-1070.7)(134.7,-1065)(148,-1061.7)(163.8,-1059.3)(180,-1056.7)};
% ---------- labels
\node[anchor=base west, inner sep=0] at (axis cs:4.1,-21.7) {\en{11 MeV}};
\node[anchor=base west, inner sep=0] at (axis cs:4.1,-63) {\en{6}};
\node[anchor=base west, inner sep=0] at (axis cs:4.1,-125) {\en{14.23 MeV}};
\node[anchor=base west, inner sep=0] at (axis cs:4.1,-166.7) {\en{9.87}};
\node[anchor=base west, inner sep=0] at (axis cs:4.1,-230) {\en{16.905 MeV}};
\node[anchor=base west, inner sep=0] at (axis cs:4.1,-273.3) {\en{9.943}};
\node[anchor=base west, inner sep=0] at (axis cs:4.1,-338.3) {\en{16.91 MeV}};
\node[anchor=base west, inner sep=0] at (axis cs:4.1,-381.7) {\en{9.941}};
\node[anchor=base west, inner sep=0] at (axis cs:4.1,-445) {\en{24 MeV}};
\node[anchor=base west, inner sep=0] at (axis cs:4.1,-488.3) {\en{8}};
\node[anchor=base west, inner sep=0] at (axis cs:4.1,-551) {\en{21.6 MeV}};
\node[anchor=base west, inner sep=0] at (axis cs:4.1,-596) {\en{6.44}};
\node[anchor=base west, inner sep=0] at (axis cs:4.1,-661.7) {\en{14.76 MeV}};
\node[anchor=base west, inner sep=0] at (axis cs:4.1,-700) {\en{7.95}};
\node[anchor=base west, inner sep=0] at (axis cs:4.1,-766.7) {\en{25.5 MeV}};
\node[anchor=base west, inner sep=0] at (axis cs:4.1,-810) {\en{7.05}};
\node[anchor=base west, inner sep=0] at (axis cs:4.1,-875) {\en{21.6 MeV}};
\node[anchor=base west, inner sep=0] at (axis cs:4.1,-918.3) {\en{10.35}};
\node[anchor=base west, inner sep=0] at (axis cs:4.1,-981.7) {\en{21.6 MeV}};
\node[anchor=base west, inner sep=0] at (axis cs:4.1,-1028.3) {\en{8.56}};
\node[anchor=base west, inner sep=0] at (axis cs:149.9,-65.7) {\nuc{209}{Bi}};
\node[anchor=base west, inner sep=0] at (axis cs:138.2,-166.7) {\nuc{nat}{Pb}};
\node[anchor=base west, inner sep=0] at (axis cs:149.9,-275) {\nuc{120}{Sn}};
\node[anchor=base west, inner sep=0] at (axis cs:149.9,-382) {\nuc{93}{Nb}};
\node[anchor=base west, inner sep=0] at (axis cs:149.9,-489) {\nuc{90}{Zr}};
\node[anchor=base west, inner sep=0] at (axis cs:149.9,-593) {\nuc{89}{Y}};
\node[anchor=base west, inner sep=0] at (axis cs:138.2,-706) {\nuc{nat}{Cr}};
\node[anchor=base west, inner sep=0] at (axis cs:138.6,-808) {\nuc{nat}{Ca}};
\node[anchor=base west, inner sep=0] at (axis cs:138.2,-915) {\nuc{nat}{Si}};
\node[anchor=base west, inner sep=0] at (axis cs:138.2,-1021.7) {\nuc{nat}{Mg}};
\node[anchor=base, inner sep=0] at (axis cs:90,-1143) {\sans\fontsize{14.5}{16}\selectfont θ\raisebox{-0.25em}{\fontsize{9}{10}\selectfont c.m.}(deg)};
\node[rotate=90, anchor=center, inner sep=0] at (axis cs:-7.4,-532) {\sans\fontsize{14.5}{16}\selectfont σ\raisebox{-0.25em}{\fontsize{9}{10}\selectfont el.}(θ) (b/sr)};
\path (axis cs:-18.5,-1154) rectangle (axis cs:186.3,0);
\end{axis}
\end{tikzpicture}
\end{document}
